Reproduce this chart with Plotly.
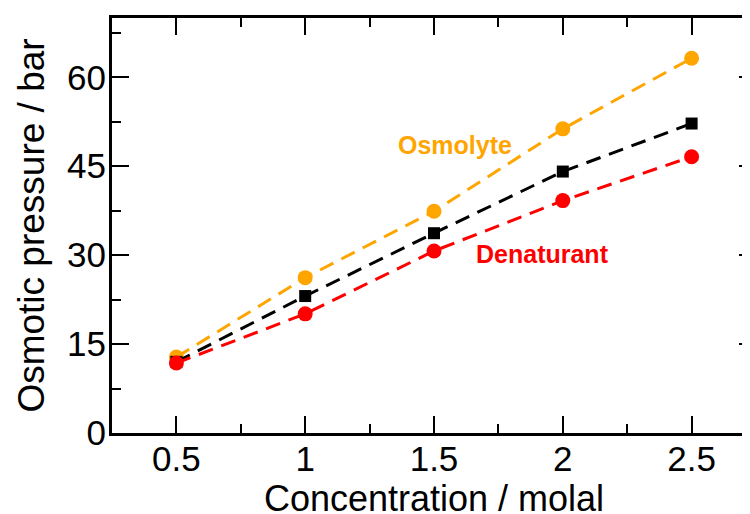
import plotly.graph_objects as go

conc = [0.5, 1.0, 1.5, 2.0, 2.5]
osmolyte = [12.8, 26.2, 37.4, 51.3, 63.2]
mixture = [12.0, 23.1, 33.7, 44.1, 52.2]
denaturant = [11.8, 20.1, 30.7, 39.2, 46.6]

x_ticks = [0.5, 1, 1.5, 2, 2.5]
x_tick_text = ["0.5", "1", "1.5", "2", "2.5"]
y_ticks = [0, 15, 30, 45, 60]

FONT = "Liberation Sans, Arial, Helvetica, sans-serif"

fig = go.Figure()
series = [
    ("Osmolyte", osmolyte, "#FFA500", "circle", 15),
    ("Mixture", mixture, "#000000", "square", 12),
    ("Denaturant", denaturant, "#FF0000", "circle", 15),
]
for name, ys, col, sym, size in series:
    fig.add_trace(go.Scatter(
        x=conc, y=ys, mode="lines+markers", name=name,
        line=dict(color=col, width=3, dash="15px,9px"),
        marker=dict(color=col, symbol=sym, size=size, line=dict(width=0)),
        showlegend=False,
    ))

fig.add_annotation(x=1.58, y=48.6, text="<b>Osmolyte</b>", showarrow=False,
                   font=dict(family=FONT, size=25, color="#FFA500"))
fig.add_annotation(x=1.92, y=30.2, text="<b>Denaturant</b>", showarrow=False,
                   font=dict(family=FONT, size=25, color="#FF0000"))

fig.update_layout(
    width=750, height=514,
    margin=dict(l=104, r=2, t=10, b=89),
    paper_bgcolor="white", plot_bgcolor="white",
    font=dict(family=FONT, color="black"),
    xaxis=dict(
        range=[0.25, 2.75], tickvals=x_ticks, ticktext=x_tick_text,
        ticks="inside", ticklen=17, tickwidth=1.5, tickcolor="black",
        showline=True, linewidth=3, linecolor="black", mirror="ticks",
        showgrid=False, zeroline=False,
        tickfont=dict(size=35, family=FONT), ticklabelstandoff=-7,
        minor=dict(dtick=0.25, tick0=0.25, ticks="inside", ticklen=9, tickwidth=1.5, tickcolor="black"),
        title=dict(text="Concentration / molal", font=dict(size=36, family=FONT), standoff=0),
        automargin=False,
    ),
    yaxis=dict(
        range=[0, 70], tickvals=y_ticks,
        ticks="inside", ticklen=17, tickwidth=1.5, tickcolor="black",
        showline=True, linewidth=3, linecolor="black", mirror="ticks",
        showgrid=False, zeroline=False,
        tickfont=dict(size=35, family=FONT), ticklabelstandoff=-4,
        minor=dict(dtick=7.5, ticks="inside", ticklen=9, tickwidth=1.5, tickcolor="black"),
        title=dict(text="Osmotic pressure / bar", font=dict(size=37, family=FONT), standoff=12),
        automargin=False,
    ),
)

fig.write_html("out.html")
